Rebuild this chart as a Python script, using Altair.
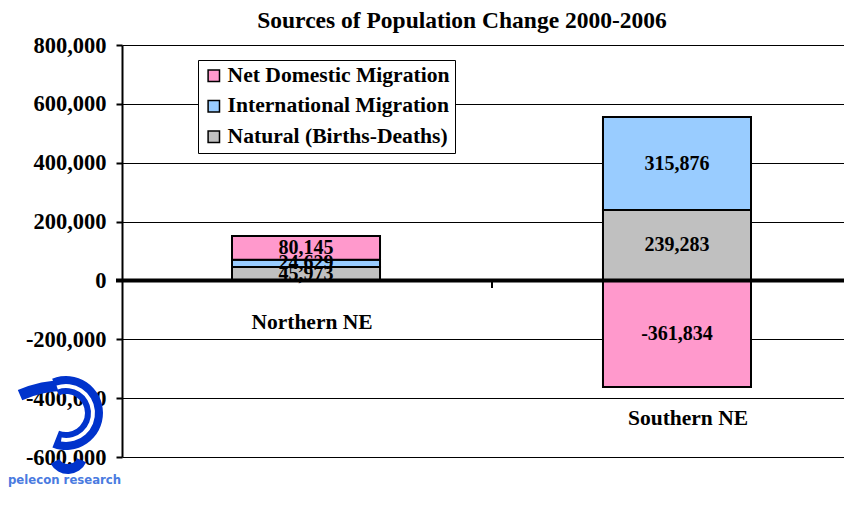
import altair as alt
import pandas as pd

# ---- data ----
regions = ["Northern NE", "Southern NE"]
components = ["Net Domestic Migration", "International Migration", "Natural (Births-Deaths)"]
net_domestic = [80145, -361834]
international = [24629, 315876]
natural = [45973, 239283]
colors = ["#FF99CC", "#99CCFF", "#C0C0C0"]
y_ticks = [-600000, -400000, -200000, 0, 200000, 400000, 600000, 800000]
title_text = "Sources of Population Change 2000-2006"

FONT = "Liberation Serif"

rows = []
series = [net_domestic, international, natural]
for ci, comp in enumerate(components):
    for ri, reg in enumerate(regions):
        rows.append({"region": reg, "component": comp, "value": series[ci][ri],
                     "ord": len(components) - ci})
df = pd.DataFrame(rows)

W, H = 722, 412

xscale = alt.Scale(domain=regions, range=[0, 739], paddingInner=0.601, paddingOuter=0.2965)
yscale = alt.Scale(domain=[-600000, 800000], nice=False, zero=False)

fmt_expr = "datum.value < 0 ? '-' + format(-datum.value, ',') : format(datum.value, ',')"

base = alt.Chart(df).transform_stack(
    stack="value", as_=["v0", "v1"], groupby=["region"], sort=[alt.SortField("ord")]
).transform_calculate(
    mid="(datum.v0 + datum.v1) / 2",
    lab=fmt_expr,
)

bars = base.mark_bar(stroke="black", strokeWidth=2).encode(
    x=alt.X("region:N", scale=xscale, axis=None),
    y=alt.Y("v0:Q", scale=yscale,
            axis=alt.Axis(values=y_ticks, labelExpr=fmt_expr, title=None,
                          grid=True, gridColor="black", gridWidth=1, gridOpacity=1,
                          domainColor="black", domainWidth=2, tickColor="black",
                          tickWidth=2, tickSize=6, labelPadding=10,
                          labelFont=FONT, labelFontSize=22.5, labelFontWeight="bold",
                          labelColor="black")),
    y2="v1:Q",
    color=alt.Color("component:N",
                    scale=alt.Scale(domain=components, range=colors),
                    legend=alt.Legend(orient="none", legendX=76, legendY=15, title=None,
                                      symbolType="square", symbolSize=130,
                                      symbolStrokeColor="black", symbolStrokeWidth=1.5,
                                      symbolOpacity=1,
                                      labelFont=FONT, labelFontSize=21.6,
                                      labelFontWeight="bold", labelColor="black",
                                      labelOffset=3, labelLimit=400,
                                      rowPadding=7.5, padding=5,
                                      strokeColor="black", fillColor="white")),
    order=alt.Order("ord:Q"),
)

labels = base.mark_text(font=FONT, fontSize=20, fontWeight="bold", color="black",
                        baseline="middle").encode(
    x=alt.X("region:N", scale=xscale),
    y=alt.Y("mid:Q", scale=yscale),
    text="lab:N",
)

# category labels: below the zero line (north) / below the negative bar (south)
neg_df = pd.DataFrame({"region": regions,
                       "bottom": [min(0, n) for n in net_domestic]})
cat_n = alt.Chart(neg_df).transform_filter("datum.bottom >= 0").mark_text(
    font=FONT, fontSize=21.5, fontWeight="bold", color="black", baseline="middle",
    dy=43, dx=6).encode(
    x=alt.X("region:N", scale=xscale), y=alt.Y("bottom:Q", scale=yscale), text="region:N")
cat_s = alt.Chart(neg_df).transform_filter("datum.bottom < 0").mark_text(
    font=FONT, fontSize=21.5, fontWeight="bold", color="black", baseline="middle",
    dy=32, dx=11).encode(
    x=alt.X("region:N", scale=xscale), y=alt.Y("bottom:Q", scale=yscale), text="region:N")

zero_line = alt.Chart(pd.DataFrame({"z": [0]})).mark_rule(color="black", strokeWidth=4).encode(
    y=alt.Y("z:Q", scale=yscale), x=alt.value(-6), x2=alt.value(W)
)

cat_tick = alt.Chart(pd.DataFrame({"z": [0]})).mark_rule(color="black", strokeWidth=2).encode(
    x=alt.value(370), y=alt.value(237), y2=alt.value(243)
)

title = alt.Chart(pd.DataFrame({"t": [title_text]})).mark_text(
    font=FONT, fontSize=23.5, fontWeight="bold", color="black", baseline="middle"
).encode(x=alt.value(340), y=alt.value(-24), text="t:N")

# logo approximation (decorative)
one = pd.DataFrame({"a": [1]})
LOGO = "#0033CC"
logo_main = alt.Chart(one).mark_arc(color=LOGO, radius=37, radius2=19,
                                    theta=5.9, theta2=9.8).encode(
    x=alt.value(66 - 122), y=alt.value(413 - 45))
logo_tail = alt.Chart(one).mark_arc(color=LOGO, radius=120, radius2=109,
                                    theta=5.87, theta2=6.35).encode(
    x=alt.value(66 - 122), y=alt.value(500 - 45))
logo_stripe = alt.Chart(one).mark_arc(color="white", radius=29, radius2=25,
                                      theta=5.95, theta2=9.6).encode(
    x=alt.value(66 - 122), y=alt.value(413 - 45))
logo_low = alt.Chart(one).mark_arc(color=LOGO, radius=20, radius2=10,
                                   theta=2.0, theta2=4.2).encode(
    x=alt.value(68 - 122), y=alt.value(454 - 45))
logo_text = alt.Chart(pd.DataFrame({"t": ["pelecon research"]})).mark_text(
    font="DejaVu Sans Condensed", fontSize=13, fontWeight="bold", color="#4A7BE0",
    baseline="middle", align="left"
).encode(x=alt.value(8 - 122), y=alt.value(480 - 45), text="t:N")

chart = alt.layer(logo_tail, logo_main, logo_stripe, logo_low, logo_text,
                  bars, zero_line, cat_tick, labels, cat_n, cat_s, title).properties(
    width=W, height=H,
    autosize=alt.AutoSizeParams(type="none"),
    padding={"left": 114, "top": 37, "right": 0, "bottom": 32},
).configure_view(stroke=None).configure(background="white")

chart.save("out.html", embed_options={"renderer": "svg", "actions": False})
